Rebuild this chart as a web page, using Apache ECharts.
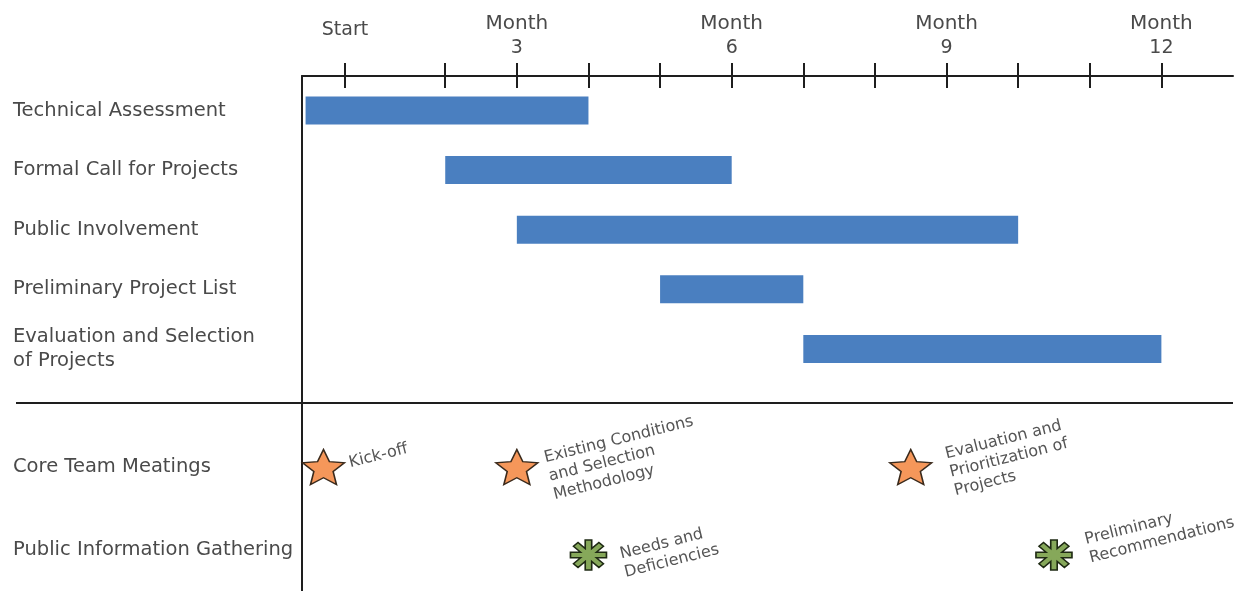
<!DOCTYPE html>
<html><head><meta charset="utf-8">
<script src="https://cdn.jsdelivr.net/npm/echarts@6/dist/echarts.min.js"></script>
<style>html,body{margin:0;padding:0;background:#fff}#c{width:1248px;height:591px}</style>
</head><body><div id="c"></div>
<script>
// ---- data ----
const tasks = ['Technical Assessment','Formal Call for Projects','Public Involvement','Preliminary Project List','Evaluation and Selection\nof Projects'];
const taskStart = [0.05, 2, 3, 5, 7];
const taskEnd = [4, 6, 10, 7, 12];
const milestoneRows = ['Core Team Meatings','Public Information Gathering'];
const meetingMonths = [0.3, 3, 8.5];
const meetingLabels = ['Kick-off','Existing Conditions\nand Selection\nMethodology','Evaluation and\nPrioritization of\nProjects'];
const gatheringMonths = [4, 10.5];
const gatheringLabels = ['Needs and\nDeficiencies','Preliminary\nRecommendations'];
const tickMonths = [0.6, 2, 3, 4, 5, 6, 7, 8, 9, 10, 11, 12];
const labelMonths = [0.6, 3, 6, 9, 12];
const labelTexts = ['Start', 'Month\n3', 'Month\n6', 'Month\n9', 'Month\n12'];

// ---- label placement styles (per milestone) ----
const meetingLabelStyle = [
  {distance: 5, offset: [0, -4]},
  {distance: 8, offset: [0, 10]},
  {distance: 16, offset: [0, 6]}
];
const gatheringLabelStyle = [
  {distance: 13, offset: [0, 9]},
  {distance: 16, offset: [0, -6]}
];

// ---- symbols ----
function starPath(){
  const pts=[];
  for(let k=0;k<10;k++){
    const a=-Math.PI/2 + k*Math.PI/5;
    const r = k%2===0 ? 50 : 23;
    pts.push([(50+r*Math.cos(a)).toFixed(2),(50+r*Math.sin(a)).toFixed(2)]);
  }
  return 'path://M'+pts.map(p=>p.join(' ')).join(' L')+' Z';
}
function asteriskPath(){
  const R=50, w=18, r=(w/2)/Math.sin(Math.PI/8);
  const pts=[];
  for(let k=0;k<8;k++){
    const a=k*Math.PI/4;
    const dx=Math.cos(a), dy=Math.sin(a), px=-dy, py=dx;
    pts.push([50+R*dx-w/2*px, 50+R*dy-w/2*py]);
    pts.push([50+R*dx+w/2*px, 50+R*dy+w/2*py]);
    const b=a+Math.PI/8;
    pts.push([50+r*Math.cos(b), 50+r*Math.sin(b)]);
  }
  return 'path://M'+pts.map(p=>p[0].toFixed(2)+' '+p[1].toFixed(2)).join(' L')+' Z';
}

const FONT = 'DejaVu Sans';
const TXT = '#4a4a4a';
const chart = echarts.init(document.getElementById('c'), null, {renderer:'canvas'});

const xLabelFmt = v => {
  const i = labelMonths.indexOf(v);
  if (i < 0) return '';
  const t = labelTexts[i];
  if (t.indexOf('\n') < 0) return '{s|' + t + '}';
  const p = t.split('\n');
  return '{m|' + p[0] + '}\n{n|' + p[1] + '}';
};

const msLabel = {
  show: true, position: 'right', rotate: 14,
  align: 'left', verticalAlign: 'middle',
  fontFamily: FONT, fontSize: 16, lineHeight: 19, color: '#555'
};

chart.setOption({
  animation: false,
  backgroundColor: '#fff',
  grid: [
    {left: 302, right: 15, top: 76, height: 327, containLabel: false, outerBoundsMode: 'none'},
    {left: 302, right: 15, top: 403, bottom: 0, containLabel: false, outerBoundsMode: 'none'}
  ],
  xAxis: [
    {gridIndex: 0, type: 'value', position: 'top', min: 0, max: 13,
     axisLine: {show: true, onZero: false, lineStyle: {color: '#1e1e1e', width: 2}},
     axisTick: {show: true, customValues: tickMonths, length: 13, lineStyle: {color: '#1e1e1e', width: 2}},
     axisLabel: {show: true, customValues: labelMonths, margin: 16, formatter: xLabelFmt,
       fontFamily: FONT, color: TXT,
       rich: {
         m: {fontFamily: FONT, fontSize: 20, lineHeight: 24, color: TXT},
         n: {fontFamily: FONT, fontSize: 19, lineHeight: 24, color: TXT},
         s: {fontFamily: FONT, fontSize: 19, lineHeight: 24, color: TXT, padding: [0,0,36,0]}
       }},
     splitLine: {show: false}},
    {gridIndex: 0, type: 'value', position: 'top', min: 0, max: 13,
     axisLine: {show: false, onZero: false},
     axisTick: {show: true, inside: true, customValues: tickMonths, length: 12, lineStyle: {color: '#1e1e1e', width: 2}},
     axisLabel: {show: false}, splitLine: {show: false}},
    {gridIndex: 1, type: 'value', min: 0, max: 13, show: false}
  ],
  yAxis: [
    {gridIndex: 0, type: 'value', inverse: true, min: -0.579, max: 4.908,
     axisLine: {show: true, onZero: false, lineStyle: {color: '#1e1e1e', width: 2}},
     axisTick: {show: false}, splitLine: {show: false},
     axisLabel: {show: true, customValues: [0,1,2,3,4], formatter: v => tasks[v] || '',
       align: 'left', margin: 289, fontFamily: FONT, fontSize: 19.5, lineHeight: 24, color: TXT}},
    {gridIndex: 1, type: 'value', inverse: true, min: -0.771, max: 1.494,
     axisLine: {show: true, onZero: false, lineStyle: {color: '#1e1e1e', width: 2}},
     axisTick: {show: false}, splitLine: {show: false},
     axisLabel: {show: true, customValues: [0,1], formatter: v => milestoneRows[v] || '',
       align: 'left', margin: 289, fontFamily: FONT, fontSize: 19.5, color: TXT}}
  ],
  graphic: [
    {type: 'line', z: 10, shape: {x1: 16, y1: 403, x2: 1233, y2: 403}, style: {stroke: '#1e1e1e', lineWidth: 2}}
  ],
  series: [
    {type: 'custom', xAxisIndex: 0, yAxisIndex: 0,
     data: tasks.map((t, i) => [taskStart[i], taskEnd[i], i]),
     encode: {x: [0, 1], y: 2},
     renderItem: (params, api) => {
       const s = api.coord([api.value(0), api.value(2)]);
       const e = api.coord([api.value(1), api.value(2)]);
       const h = 28;
       return {type: 'rect', shape: {x: s[0], y: s[1] - h / 2, width: e[0] - s[0], height: h},
               style: {fill: '#4a7fc0'}};
     }},
    {type: 'scatter', xAxisIndex: 2, yAxisIndex: 1,
     symbol: starPath(), symbolSize: [42, 35],
     itemStyle: {color: '#f5975a', borderColor: '#3a2a1c', borderWidth: 1.5, opacity: 1},
     label: Object.assign({}, msLabel),
     data: meetingMonths.map((m, i) => ({value: [m, 0],
       label: Object.assign({formatter: meetingLabels[i]}, meetingLabelStyle[i])}))},
    {type: 'scatter', xAxisIndex: 2, yAxisIndex: 1,
     symbol: asteriskPath(), symbolSize: [36, 30], symbolOffset: [0, 5],
     itemStyle: {color: '#86a85a', borderColor: '#1f2a14', borderWidth: 1.5, opacity: 1},
     label: Object.assign({}, msLabel),
     data: gatheringMonths.map((m, i) => ({value: [m, 1],
       label: Object.assign({formatter: gatheringLabels[i]}, gatheringLabelStyle[i])}))}
  ]
});
</script></body></html>
